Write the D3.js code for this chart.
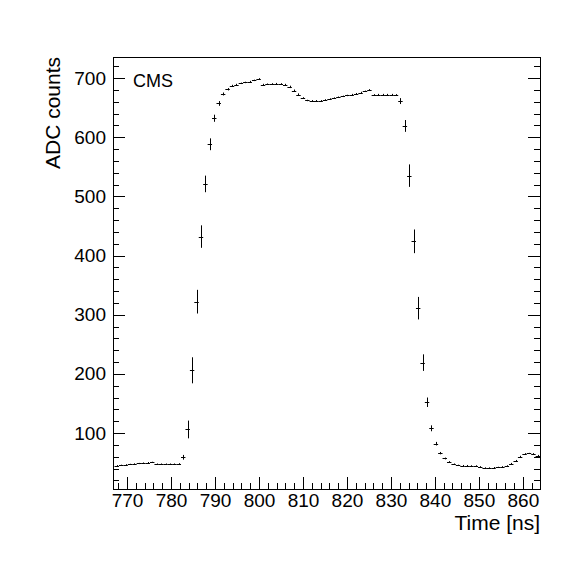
<!doctype html>
<html>
<head>
<style>
  body { margin: 0; background: #fff; }
  text { font-family: "Liberation Sans", Arial, sans-serif; fill: #000; }
  .axis path, .axis line { fill: none; stroke: #000; stroke-width: 1; shape-rendering: crispEdges; }
  .hist line { stroke: #000; stroke-width: 1; }
</style>
<script src="https://d3js.org/d3.v7.min.js"></script>
</head>
<body>
<svg width="567" height="574"></svg>
<script>
// histogram: bin start / width in ns, then one value and error per bin
var binStart = 767.15;
var binWidth = 1.008;

var counts = [
  44.8, 45.5, 46.3, 47, 47.8, 48.5, 49.2, 50, 50.5,
  47.5, 47.5, 47.5, 47.5, 47.5, 48,
  59, 106, 206, 322, 432, 521, 588, 632, 657, 673, 681,
  687, 689, 691, 692.5, 694, 696, 698.5,
  689, 689.5, 690, 690.5, 690, 689,
  685, 678.5, 672, 666, 662, 661.5, 661.5, 661.5,
  663, 664.5, 666, 667.5, 669, 670.5, 672, 673.5, 675.5, 677.5, 680,
  671.5, 672, 672, 672, 672, 671.5,
  661, 619, 535, 424, 311, 219, 152, 108, 82, 66, 57,
  51, 47.5, 45.5, 45, 45, 44.5, 44.5, 43, 41, 41, 41.5, 42, 43, 44.5, 48, 53, 60, 65, 65.5, 65, 62
];

var errors = [
  1, 1, 1, 1, 1, 1, 1, 1, 1,
  1, 1, 1, 1, 1, 1,
  4, 15, 22, 20, 19, 14, 10, 6, 4, 2.5, 2,
  1.5, 1.2, 1.2, 1.2, 1.2, 1.2, 1.2,
  1.2, 1.2, 1.2, 1.2, 1.2, 1.2,
  2, 2, 2, 1.5, 1.2, 1.2, 1.2, 1.2,
  1.2, 1.2, 1.2, 1.2, 1.2, 1.2, 1.2, 1.2, 1.2, 1.2, 1.2,
  1.2, 1.2, 1.2, 1.2, 1.2, 1.2,
  5, 10, 19, 20, 19, 14, 8, 5, 3, 2, 1.5,
  1.5, 1, 1, 1, 1, 1, 1, 1, 1, 1, 1, 1, 1, 1, 1.5, 1.5, 1.5, 1, 1, 1, 1
];

var xMajor = [770, 780, 790, 800, 810, 820, 830, 840, 850, 860];
var yMajor = [100, 200, 300, 400, 500, 600, 700];
var xMinor = d3.range(768, 864, 2);
var yMinor = d3.range(20, 740, 20);

var svg = d3.select("svg");
var x = d3.scaleLinear().domain([766.8, 863.9]).range([113, 540]);
var y = d3.scaleLinear().domain([5.4, 735.5]).range([489, 57]);

svg.append("rect").attr("width", 567).attr("height", 574).attr("fill", "#fff");

// clip for the histogram
svg.append("clipPath").attr("id", "frame")
   .append("rect").attr("x", 113).attr("y", 57).attr("width", 427).attr("height", 432);

var data = counts.map(function(v, i) {
    return { lo: binStart + i * binWidth, hi: binStart + (i + 1) * binWidth, v: v, e: errors[i] };
});

var h = svg.append("g").attr("class", "hist").attr("clip-path", "url(#frame)");
h.selectAll(".hbar").data(data).enter().append("line")
 .attr("x1", function(d) { return x(d.lo); })
 .attr("x2", function(d) { return x(d.hi); })
 .attr("y1", function(d) { return Math.round(y(d.v)) + 0.5; })
 .attr("y2", function(d) { return Math.round(y(d.v)) + 0.5; });
h.selectAll(".ebar").data(data).enter().append("line")
 .attr("x1", function(d) { return Math.round(x((d.lo + d.hi) / 2)) + 0.5; })
 .attr("x2", function(d) { return Math.round(x((d.lo + d.hi) / 2)) + 0.5; })
 .attr("y1", function(d) { return y(d.v - d.e); })
 .attr("y2", function(d) { return y(d.v + d.e); });

// frame
svg.append("rect").attr("x", 113.5).attr("y", 57.5).attr("width", 427).attr("height", 432)
   .attr("fill", "none").attr("stroke", "#000").attr("stroke-width", 1).attr("shape-rendering", "crispEdges");

// x axis (ticks inside)
svg.append("g").attr("class", "axis").attr("transform", "translate(0,489)")
   .call(d3.axisBottom(x).tickValues(xMinor).tickSize(-6).tickFormat(""))
   .call(function(g) { g.select(".domain").remove(); });
svg.append("g").attr("class", "axis").attr("transform", "translate(0,489)")
   .call(d3.axisBottom(x).tickValues(xMajor).tickSize(-12).tickPadding(5).tickFormat(d3.format("d")))
   .call(function(g) {
       g.select(".domain").remove();
       g.selectAll("text").attr("font-size", "19px").attr("font-family", "Liberation Sans, Arial, sans-serif");
   });

// y axis left
svg.append("g").attr("class", "axis").attr("transform", "translate(113,0)")
   .call(d3.axisLeft(y).tickValues(yMinor).tickSize(-6).tickFormat(""))
   .call(function(g) { g.select(".domain").remove(); });
svg.append("g").attr("class", "axis").attr("transform", "translate(113,0)")
   .call(d3.axisLeft(y).tickValues(yMajor).tickSize(-12).tickPadding(7).tickFormat(d3.format("d")))
   .call(function(g) {
       g.select(".domain").remove();
       g.selectAll("text").attr("font-size", "19px").attr("font-family", "Liberation Sans, Arial, sans-serif");
   });

// y axis right, ticks only
svg.append("g").attr("class", "axis").attr("transform", "translate(540,0)")
   .call(d3.axisRight(y).tickValues(yMinor).tickSize(-6).tickFormat(""))
   .call(function(g) { g.select(".domain").remove(); });
svg.append("g").attr("class", "axis").attr("transform", "translate(540,0)")
   .call(d3.axisRight(y).tickValues(yMajor).tickSize(-12).tickFormat(""))
   .call(function(g) { g.select(".domain").remove(); });

// titles
svg.append("text")
   .attr("x", 540).attr("y", 530)
   .attr("text-anchor", "end")
   .attr("font-size", "21px")
   .text("Time [ns]");

svg.append("text")
   .attr("transform", "translate(60,57) rotate(-90)")
   .attr("text-anchor", "end")
   .attr("font-size", "21px")
   .text("ADC counts");

svg.append("text")
   .attr("x", 133).attr("y", 87)
   .attr("font-size", "18px")
   .text("CMS");
</script>
</body>
</html>
